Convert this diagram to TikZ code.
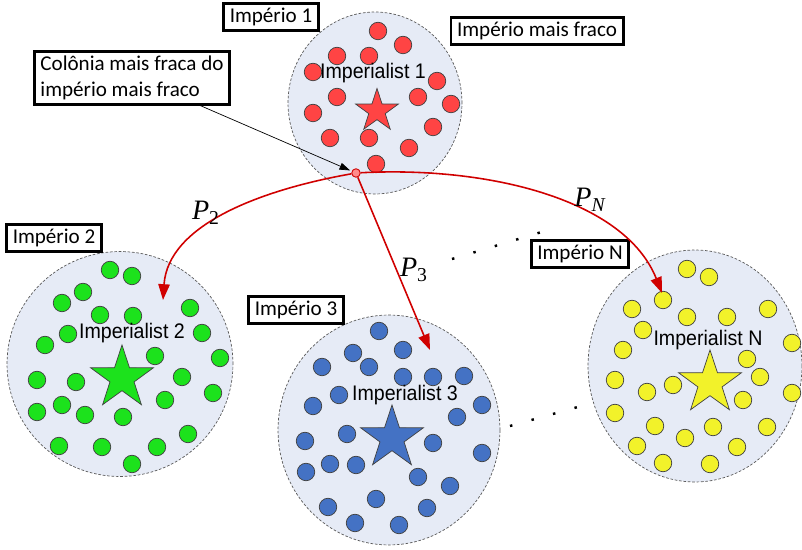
\documentclass[tikz,border=0pt]{standalone}
\usepackage{fontspec}
\setmainfont{Liberation Sans}
\newfontfamily\boxfont{Carlito}
\newfontfamily\impfont[FakeStretch=0.93]{Liberation Sans}
\newfontfamily\pfont{Liberation Serif}
\usetikzlibrary{shapes.geometric,arrows.meta}

\definecolor{empfill}{HTML}{E6EBF6}
\definecolor{colred}{HTML}{FF4444}
\definecolor{colgreen}{HTML}{1CE21C}
\definecolor{colblue}{HTML}{4472C4}
\definecolor{colyellow}{HTML}{F2F22A}
\definecolor{arrowred}{HTML}{D00000}

\begin{document}
\begin{tikzpicture}[x=0.02cm, y=-0.02cm,
  empire/.style={ellipse, inner sep=0pt, draw=gray!70!black, dash pattern=on 1.5pt off 1pt, fill=empfill, line width=0.4pt},
  colony/.style={circle, draw=black!75, line width=0.4pt, minimum size=0.35cm, inner sep=0pt},
  imperialist/.style={star, star points=5, star point ratio=2.6, draw=black!75, line width=0.4pt, inner sep=0pt},
  tag/.style={draw, line width=1.6pt, fill=white, font=\boxfont\fontsize{12}{14.5}\selectfont, inner xsep=3.5pt, inner ysep=2.5pt},
  impname/.style={font=\impfont\fontsize{12}{14}\selectfont},
  move/.style={draw=arrowred, line width=0.9pt, -{Triangle[length=9pt,width=6.5pt]}},
  plabel/.style={font=\pfont\fontsize{16}{18}\selectfont\itshape},
  etc/.style={line width=1.4pt, dash pattern=on 1.4pt off 11.3pt}]
  \useasboundingbox (0,0) rectangle (802,550);

  % Empires
  \node[empire, minimum width=3.48cm, minimum height=3.64cm] (emp1) at (375,103) {};
  \node[empire, minimum width=4.52cm, minimum height=4.5cm] (emp2) at (120,364) {};
  \node[empire, minimum width=4.44cm, minimum height=4.6cm] (emp3) at (389,430) {};
  \node[empire, minimum width=4.28cm, minimum height=4.64cm] (empN) at (695,366) {};

  % Colonies of empire 1
  \foreach \x/\y [count=\i] in {378/31, 403/45, 337/56, 369/56, 313/72, 437/81, 337/97, 418/97,
      451/104, 313/113, 433/127, 330/138, 369/138, 409/148, 376/164}
    \node[colony, fill=colred] (r\i) at (\x,\y) {};

  % Colonies of empire 2
  \foreach \x/\y [count=\i] in {110/270, 132/276, 83/292, 62/303, 100/315, 133/316, 190/308,
      68/334, 202/333, 45/345, 155/356, 220/358, 37/380, 76/382, 182/377, 213/393, 62/405,
      37/412, 85/415, 123/417, 165/400, 59/446, 102/447, 157/447, 188/434, 132/464}
    \node[colony, fill=colgreen] (g\i) at (\x,\y) {};

  % Colonies of empire 3
  \foreach \x/\y [count=\i] in {379/331, 353/353, 403/350, 322/367, 369/367, 403/377, 433/377,
      464/376, 339/395, 313/406, 482/405, 457/417, 347/434, 305/441, 433/443, 482/453, 330/464,
      356/465, 306/472, 418/477, 450/486, 376/499, 328/507, 427/508, 355/523, 399/525}
    \node[colony, fill=colblue] (b\i) at (\x,\y) {};

  % Colonies of empire N
  \foreach \x/\y [count=\i] in {687/269, 709/277, 663/300, 632/309, 687/317, 727/317, 768/309,
      643/330, 792/343, 623/350, 747/359, 760/377, 615/380, 673/385, 647/392, 743/400, 792/393,
      615/413, 655/426, 713/427, 767/427, 685/438, 637/446, 737/447, 663/463, 710/464}
    \node[colony, fill=colyellow] (y\i) at (\x,\y) {};

  % Imperialists
  \node[imperialist, fill=colred, minimum size=0.9cm] (star1) at (377,111) {};
  \node[imperialist, fill=colgreen, minimum size=1.32cm] (star2) at (122,378) {};
  \node[imperialist, fill=colblue, minimum size=1.32cm] (star3) at (392,438) {};
  \node[imperialist, fill=colyellow, minimum size=1.32cm] (starN) at (710,383) {};

  \node[impname] (name1) at (373,73) {Imperialist 1};
  \node[impname] (name2) at (132,333) {Imperialist 2};
  \node[impname] (name3) at (405,395) {Imperialist 3};
  \node[impname] (nameN) at (708,340) {Imperialist N};

  % Labels
  \node[tag] (tag1) at (271,17) {Império 1};
  \node[tag] (tagweak) at (537,31) {Império mais fraco};
  \node[tag, align=left] (tagcol) at (132,78) {Colônia mais fraca do\\império mais fraco};
  \node[tag] (tag2) at (54,238) {Império 2};
  \node[tag] (tag3) at (296,310) {Império 3};
  \node[tag] (tagN) at (580,254) {Império N};

  % Weakest colony
  \node[circle, draw=arrowred, fill=red!45, line width=0.5pt, minimum size=0.17cm, inner sep=0pt] (weak) at (356,173) {};
  \draw[-{Triangle[length=6pt,width=4pt]}, line width=0.4pt, shorten >=1pt] (tagcol.-22) -- (weak);

  % Moves of the colony
  \coordinate (t2) at (163,300);
  \coordinate (t3) at (430,350);
  \coordinate (tN) at (662,293);
  \draw[move] (weak) .. controls (260,190) and (168,225) .. (t2);
  \draw[move] (weak) -- (t3);
  \draw[move] (weak) .. controls (490,166) and (625,200) .. (tN);
  \node[plabel] (p2) at (206,213) {P\textsubscript{\upshape 2}};
  \node[plabel] (p3) at (414,270) {P\textsubscript{\upshape 3}};
  \node[plabel] (pN) at (590,200) {P\textsubscript{N}};

  % Other empires
  \draw[etc] (452,259) -- (545,231);
  \draw[etc] (510,426) -- (585,405);
\end{tikzpicture}
\end{document}
